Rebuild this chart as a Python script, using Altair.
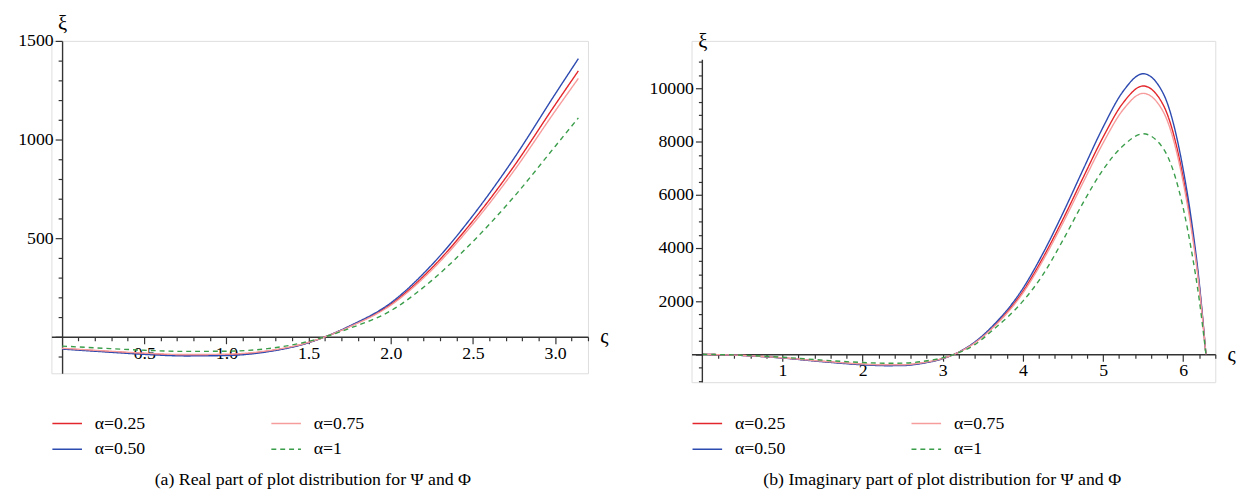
import altair as alt
import pandas as pd

# ---------------- data ----------------
series = ["α=0.25", "α=0.50", "α=0.75", "α=1"]
legend_order = ["α=0.25", "α=0.75", "α=0.50", "α=1"]

# (a) real part
x_re = [0, 0.25, 0.5, 0.75, 1.0, 1.25, 1.5, 1.6, 1.75, 2.0, 2.25, 2.5, 2.75, 3.0, 3.1416]
re_a025 = [-60, -73, -85, -93, -91, -73, -29, 0, 53, 165, 349, 588, 865, 1176, 1348]
re_a050 = [-62, -76, -89, -97, -95, -76, -30, 0, 55, 172, 365, 615, 905, 1230, 1410]
re_a075 = [-58, -71, -83, -90, -88, -71, -28, 0, 51, 160, 339, 572, 842, 1144, 1310]
re_a100 = [-47, -58, -68, -74, -73, -60, -23, 0, 43, 132, 286, 483, 710, 965, 1110]

# (b) imaginary part
x_im = [0, 0.5, 1, 1.5, 2, 2.3, 2.5, 2.75, 3, 3.1416, 3.4, 3.62, 4, 4.25, 4.5, 4.75,
        5, 5.25, 5.5, 5.75, 6, 6.1, 6.2, 6.2832]
im_a025 = [0, -43, -136, -268, -378, -411, -406, -325, -158, 0, 445, 1013, 2371, 3633,
           5086, 6644, 8174, 9464, 10100, 9388, 6644, 4876, 2581, 0]
im_a050 = [0, -45, -142, -280, -395, -430, -425, -340, -165, 0, 465, 1060, 2480, 3800,
           5320, 6950, 8550, 9900, 10560, 9820, 6950, 5100, 2700, 0]
im_a075 = [0, -42, -132, -260, -367, -400, -395, -316, -153, 0, 432, 986, 2306, 3534,
           4948, 6464, 7952, 9207, 9820, 9133, 6464, 4743, 2511, 0]
im_a100 = [0, -35, -112, -220, -310, -338, -334, -267, -130, 0, 365, 900, 2000, 3000,
           4300, 5700, 6950, 7850, 8300, 7750, 5500, 3950, 2050, 0]

# axis ticks
re_xticks = [round(0.1 * i, 1) for i in range(1, 33)]
re_yticks = list(range(-100, 1501, 100))
im_xticks = [round(0.2 * i, 1) for i in range(1, 33)]
im_yticks = list(range(-1000, 11001, 500))

captions = ["(a) Real part of plot distribution for \u03a8 and \u03a6",
            "(b) Imaginary part of plot distribution for \u03a8 and \u03a6"]

# ---------------- styles ----------------
FONT = "Liberation Serif"
FS = 18
colors = ["#e3262b", "#f79c9c", "#2d4ab0", "#3a9d4a"]   # in legend_order
dashes = [[1, 0], [1, 0], [1, 0], [5, 4]]
AX = "#333333"


def long_df(x, ys):
    rows = []
    for name, vals in zip(series, ys):
        for xv, yv in zip(x, vals):
            rows.append({"x": xv, "y": yv, "s": name})
    return pd.DataFrame(rows)


def legend():
    return alt.Legend(title=None, orient="none", legendX=0, legendY=372,
                      direction="horizontal", columns=2, columnPadding=124,
                      rowPadding=1, values=legend_order,
                      symbolType="stroke", symbolSize=900, symbolStrokeWidth=1.5,
                      labelFont=FONT, labelFontSize=FS, labelColor="black",
                      labelOffset=12, labelLimit=200)


def panel(df, xdom, ydom, xticks, yticks, xmaj, ymaj, w, h, caption,
          ytitle_y, cap_offset, yaxis_rule=None):
    x_off = -w * (0 - xdom[0]) / (xdom[1] - xdom[0])
    y_off = -h * (0 - ydom[0]) / (ydom[1] - ydom[0])
    xtest = f"abs(datum.value/{xmaj} - round(datum.value/{xmaj})) < 1e-6"
    ytest = f"abs(datum.value/{ymaj} - round(datum.value/{ymaj})) < 1e-6 && datum.value > 0"
    xfmt = ".1f" if xmaj < 1 else "d"
    xaxis = alt.Axis(values=xticks, orient="bottom", offset=y_off,
                     labelExpr=f"{xtest} ? format(datum.value, '{xfmt}') : ''",
                     tickSize={"condition": {"test": xtest, "value": 7}, "value": 4},
                     tickColor=AX, domainColor=AX, domainWidth=1.4, tickWidth=1.2,
                     labelFont=FONT, labelFontSize=FS, labelColor="black",
                     labelPadding=1, labelFlush=False, labelOverlap=False,
                     title="\u03c2", titleFont=FONT, titleFontSize=21,
                     titleFontWeight="normal", titleAngle=0,
                     titleX=w + 12, titleY=0, titleAlign="left",
                     titleBaseline="middle", titleColor="black", grid=False)
    yaxis = alt.Axis(values=yticks, orient="left", offset=x_off,
                     labelExpr=f"({ytest}) ? format(datum.value, 'd') : ''",
                     tickSize={"condition": {"test": f"abs(datum.value/{ymaj} - round(datum.value/{ymaj})) < 1e-6", "value": 7}, "value": 4},
                     tickColor=AX, domainColor=AX, domainWidth=1.4, tickWidth=1.2,
                     domain=yaxis_rule is None,
                     labelFont=FONT, labelFontSize=FS, labelColor="black",
                     labelPadding=2, labelFlush=False, labelOverlap=False,
                     title="\u03be", titleFont=FONT, titleFontSize=21,
                     titleFontWeight="normal", titleAngle=0,
                     titleX=0, titleY=ytitle_y, titleAlign="center",
                     titleBaseline="alphabetic", titleColor="black", grid=False)
    xenc = alt.X("x:Q", scale=alt.Scale(domain=xdom, nice=False, zero=False), axis=xaxis)
    yenc = alt.Y("y:Q", scale=alt.Scale(domain=ydom, nice=False, zero=False), axis=yaxis)
    lines = alt.Chart(df).mark_line(strokeWidth=1.4, interpolate="monotone").encode(
        x=xenc, y=yenc,
        color=alt.Color("s:N", scale=alt.Scale(domain=legend_order, range=colors),
                        legend=legend()),
        strokeDash=alt.StrokeDash("s:N", scale=alt.Scale(domain=legend_order, range=dashes),
                                  legend=legend()),
    )
    layers = [lines]
    if yaxis_rule is not None:
        rdf = pd.DataFrame({"x": [0], "y": [yaxis_rule[0]], "y2": [yaxis_rule[1]]})
        rule = alt.Chart(rdf).mark_rule(color=AX, strokeWidth=1.4).encode(
            x=xenc, y=yenc, y2="y2:Q")
        layers.append(rule)
    return alt.layer(*layers).properties(
        width=w, height=h,
        title=alt.TitleParams(caption, orient="bottom", anchor="middle", frame="bounds",
                              font=FONT, fontSize=FS, fontWeight="normal",
                              color="black", offset=cap_offset),
    )


left = panel(long_df(x_re, [re_a025, re_a050, re_a075, re_a100]),
             [-0.065, 3.2], [-185, 1500], re_xticks, re_yticks, 0.5, 500,
             544, 337, captions[0], -12, 13)
right = panel(long_df(x_im, [im_a025, im_a050, im_a075, im_a100]),
              [-0.135, 6.4], [-1050, 11796], im_xticks, im_yticks, 1, 2000,
              531, 346, captions[1], 7, 13, yaxis_rule=[-1050, 11090])

chart = alt.hconcat(left, right, spacing=40).resolve_scale(
    color="independent", strokeDash="independent"
).configure_view(stroke=None).configure(
    font=FONT, padding={"left": 9, "top": 0, "right": 0, "bottom": 0})

chart.save("out.html", embed_options={"renderer": "svg", "actions": False})
